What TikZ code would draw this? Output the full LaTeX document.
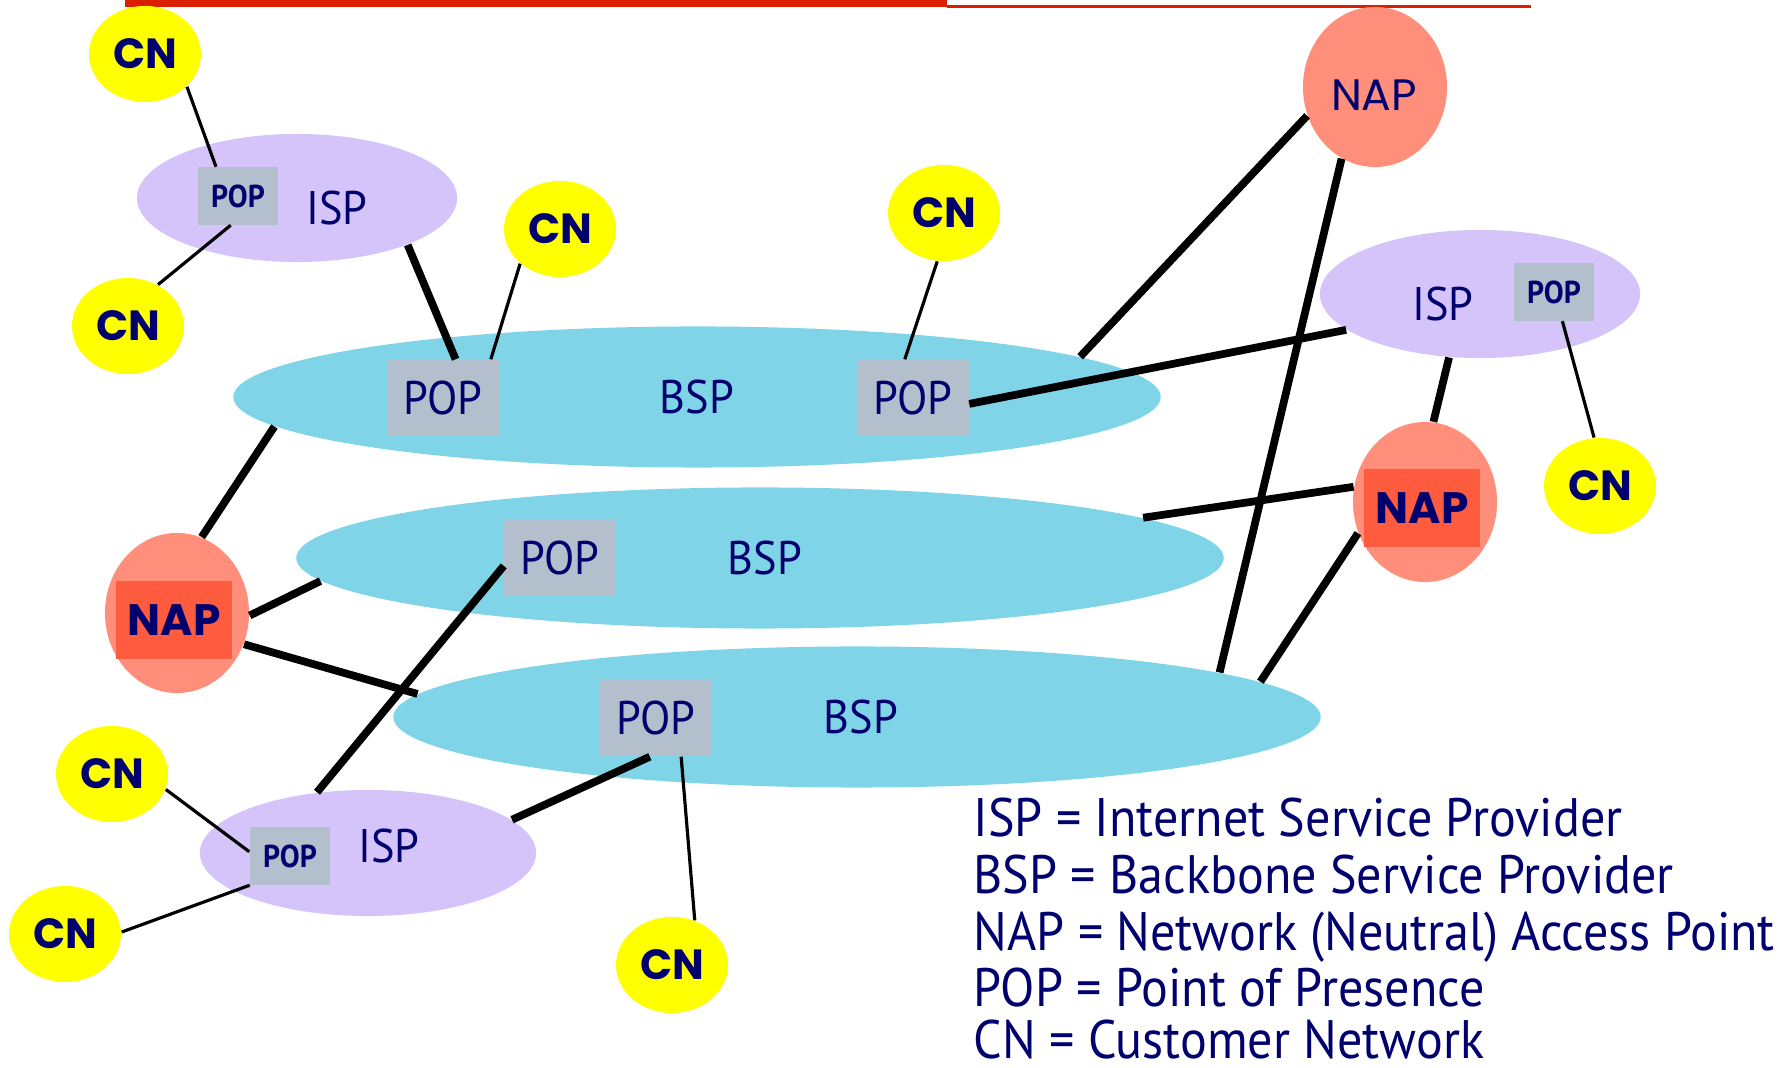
\documentclass[tikz,border=0pt]{standalone}
\usepackage{fontspec}
\setmainfont{PT Sans}
\newfontfamily\labelfont[FakeStretch=0.94]{PT Sans}
\newfontfamily\legendfont[FakeStretch=0.925]{PT Sans}
\newfontfamily\roundfont{Poppins}
\usepackage{tikz}
\usetikzlibrary{shapes.geometric}

\definecolor{navy}{RGB}{0,0,110}
\definecolor{cnyellow}{RGB}{255,255,0}
\definecolor{napsalmon}{RGB}{255,143,122}
\definecolor{napred}{RGB}{255,92,63}
\definecolor{isplilac}{RGB}{212,196,250}
\definecolor{bspcyan}{RGB}{127,212,232}
\definecolor{popgray}{RGB}{179,191,204}
\definecolor{barred}{RGB}{218,32,0}

\begin{document}
\begin{tikzpicture}[x=0.01cm, y=-0.01cm,
    cnode/.style={ellipse, fill=cnyellow, inner sep=0pt, minimum width=1.12cm, minimum height=0.96cm,
        text=navy, font=\roundfont\bfseries\fontsize{12pt}{14pt}\selectfont},
    napnode/.style={ellipse, fill=napsalmon, inner sep=0pt, minimum width=1.44cm, minimum height=1.6cm},
    naptag/.style={inner sep=0pt, text=navy, font=\roundfont\fontsize{12.5pt}{15pt}\selectfont},
    napbox/.style={rectangle, fill=napred, inner sep=0pt, minimum width=1.16cm, minimum height=0.78cm,
        text=navy, font=\roundfont\bfseries\fontsize{12.5pt}{15pt}\selectfont},
    ispnode/.style={ellipse, fill=isplilac, inner sep=0pt, minimum width=3.2cm, minimum height=1.28cm},
    bspnode/.style={ellipse, fill=bspcyan, inner sep=0pt, minimum width=9.27cm, minimum height=1.41cm,
        text=navy, font=\labelfont\fontsize{13.4pt}{16pt}\selectfont},
    popbox/.style={rectangle, fill=popgray, inner sep=0pt, minimum width=1.11cm, minimum height=0.76cm,
        text=navy, font=\labelfont\fontsize{13.4pt}{16pt}\selectfont},
    popsmall/.style={rectangle, fill=popgray, inner sep=0pt, minimum width=0.8cm, minimum height=0.57cm,
        text=navy, font=\labelfont\bfseries\fontsize{9pt}{11pt}\selectfont},
    tag/.style={inner sep=0pt, text=navy, font=\labelfont\fontsize{13.4pt}{16pt}\selectfont},
    legend/.style={anchor=base west, inner sep=0pt, text=navy, font=\legendfont\fontsize{15.4pt}{18pt}\selectfont},
    link/.style={line width=2.2pt},
    thinlink/.style={line width=0.9pt}]

    \useasboundingbox (0,0) rectangle (1785,1068);

    % title bar
    \fill[barred] (125,0) rectangle (947,7);
    \fill[barred] (947,5.5) rectangle (1531,8);

    % backbones
    \node[bspnode] (bspA) at (697,397) {BSP};
    \node[bspnode] (bspB) at (760,558) {\hspace{0.1cm}BSP};
    \node[bspnode] (bspC) at (857,717) {\hspace{0.08cm}BSP};
    \node[popbox] (popA1) at (443,398) {POP};
    \node[popbox] (popA2) at (913,398) {POP};
    \node[popbox] (popB) at (560,558) {POP};
    \node[popbox] (popC) at (656,718) {POP};

    % ISPs
    \node[ispnode] (ispA) at (297,198) {};
    \node[popsmall] (popIA) at (238,196) {POP};
    \node[tag] (ispAtext) at (337,208) {ISP};
    \node[ispnode] (ispB) at (1480,294) {};
    \node[popsmall] (popIB) at (1554,292) {POP};
    \node[tag] (ispBtext) at (1443,304) {ISP};
    \node[ispnode, minimum width=3.36cm, minimum height=1.26cm] (ispC) at (368,853) {};
    \node[popsmall] (popIC) at (290,856) {POP};
    \node[tag] (ispCtext) at (389,846) {ISP};

    % NAPs
    \node[napnode] (napT) at (1375,87) {};
    \node[naptag] (napTtext) at (1374,95) {NAP};
    \node[napnode] (napR) at (1425,502) {};
    \node[napbox] (napRbox) at (1422,508) {NAP};
    \node[napnode] (napL) at (177,613) {};
    \node[napbox] (napLbox) at (174,620) {NAP};

    % customer networks
    \node[cnode] (cnA) at (145,54) {CN};
    \node[cnode] (cnB) at (128,326) {CN};
    \node[cnode] (cnC) at (560,229) {CN};
    \node[cnode] (cnD) at (944,213) {CN};
    \node[cnode] (cnE) at (1600,486) {CN};
    \node[cnode] (cnF) at (112,774) {CN};
    \node[cnode] (cnG) at (65,934) {CN};
    \node[cnode] (cnH) at (672,965) {CN};

    % links
    \draw[thinlink] (cnA.-38) -- (popIA.127);
    \draw[thinlink] (popIA.-104) -- (cnB.54);
    \draw[thinlink] (cnC.-139) -- (popA1.39);
    \draw[link] (ispA.-23) -- (popA1.72);
    \draw[thinlink] (cnD.-98) -- (popA2.102);
    \draw[link] (popA2.-6) -- (ispB.-165);
    \draw[link] (napT.-157) -- (bspA.6);
    \draw[link] (napT.-115) -- (bspC.7);
    \draw[link] (ispB.-116) -- (napR.84);
    \draw[link] (bspB.6) -- (napR.168);
    \draw[link] (napR.-155) -- (bspC.5);
    \draw[link] (bspA.184.5) -- (napL.72);
    \draw[link] (napL.-2) -- (bspB.183);
    \draw[link] (napL.-25) -- (bspC.177);
    \draw[link] (popB.188) -- (ispC.130);
    \draw[link] (popC.-99) -- (ispC.13);
    \draw[thinlink] (popC.-57) -- (cnH.63);
    \draw[thinlink] (popIB.-74) -- (cnE.97);
    \draw[thinlink] (cnF.-16) -- (popIC.174);
    \draw[thinlink] (popIC.216) -- (cnG.2);

    % key
    \node[legend] (keyISP) at (973,837) {ISP = Internet Service Provider};
    \node[legend] (keyBSP) at (973,894) {BSP = Backbone Service Provider};
    \node[legend] (keyNAP) at (973,951) {NAP = Network (Neutral) Access Point};
    \node[legend] (keyPOP) at (973,1007) {POP = Point of Presence};
    \node[legend] (keyCN) at (973,1059) {CN = Customer Network};
\end{tikzpicture}
\end{document}
